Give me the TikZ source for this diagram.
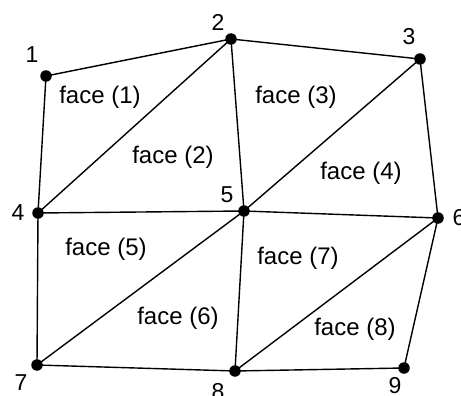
\documentclass[tikz,border=0pt]{standalone}
\usepackage{fontspec}
\setmainfont{Liberation Sans}
\begin{document}
\begin{tikzpicture}[x=1pt,y=-1pt,
  vtx/.style={circle,fill=black,inner sep=0pt,minimum size=11.5pt},
  edge/.style={line width=1.4pt,black},
  lbl/.style={font=\fontsize{23}{27}\selectfont,inner sep=0pt},
  flbl/.style={font=\fontsize{24}{28}\selectfont,inner sep=0pt}]
\useasboundingbox (0,0) rectangle (461,396);
\node[vtx] (v1) at (46,76) {};
\node[vtx] (v2) at (231,39) {};
\node[vtx] (v3) at (420,59) {};
\node[vtx] (v4) at (38,213) {};
\node[vtx] (v5) at (244,211) {};
\node[vtx] (v6) at (438,218) {};
\node[vtx] (v7) at (37,365) {};
\node[vtx] (v8) at (235,371) {};
\node[vtx] (v9) at (404,368) {};
\foreach \a/\b in {v1/v2,v1/v4,v2/v4,v2/v3,v2/v5,v3/v5,v3/v6,v4/v5,v5/v6,v4/v7,v5/v7,v5/v8,v6/v8,v6/v9,v7/v8,v8/v9}
  \draw[edge] (\a.center) -- (\b.center);
\node[lbl] (l1) at (32,55) {1};
\node[lbl] (l2) at (218,22) {2};
\node[lbl] (l3) at (409,37) {3};
\node[lbl] (l4) at (18,213) {4};
\node[lbl] (l5) at (227,195) {5};
\node[lbl] (l6) at (459,218) {6};
\node[lbl] (l7) at (21,383) {7};
\node[lbl] (l8) at (218,392) {8};
\node[lbl] (l9) at (395,386) {9};
\node[flbl] (f1) at (100,97) {face (1)};
\node[flbl] (f2) at (173,157) {face (2)};
\node[flbl] (f3) at (296,97) {face (3)};
\node[flbl] (f4) at (361,173) {face (4)};
\node[flbl] (f5) at (106,249) {face (5)};
\node[flbl] (f6) at (178,318) {face (6)};
\node[flbl] (f7) at (298,258) {face (7)};
\node[flbl] (f8) at (355,329) {face (8)};
\end{tikzpicture}
\end{document}
